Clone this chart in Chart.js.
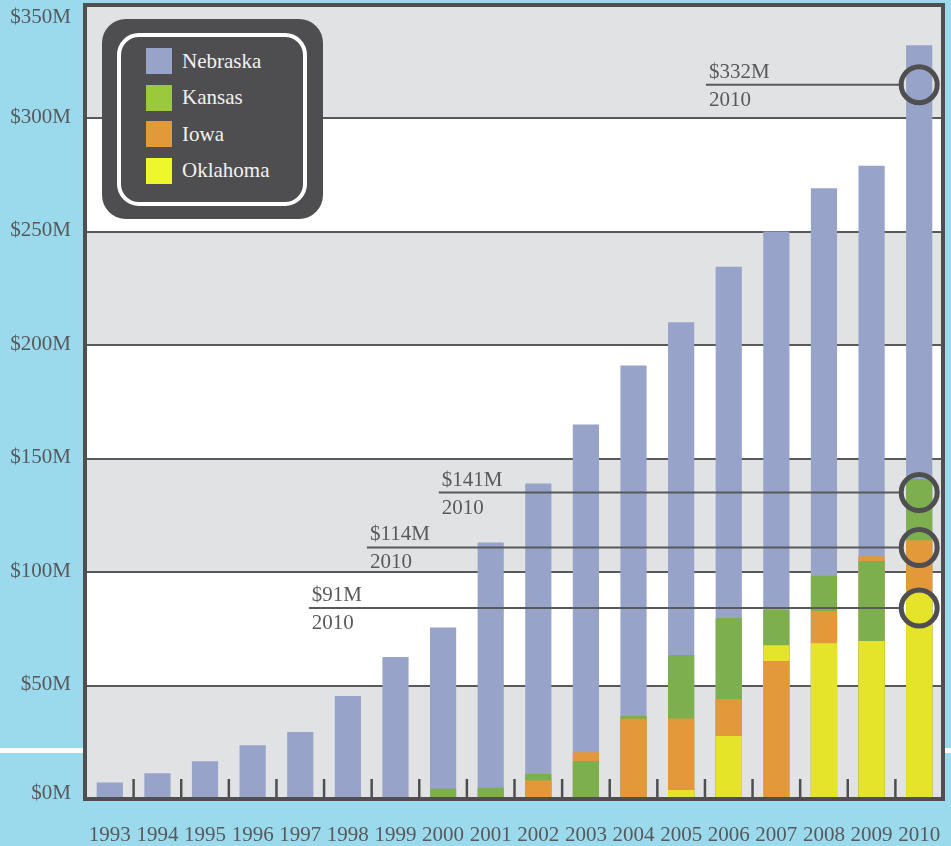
<!DOCTYPE html>
<html>
<head>
<meta charset="utf-8">
<script src="https://cdn.jsdelivr.net/npm/chart.js@4/dist/chart.umd.min.js"></script>
<style>
  html, body { margin: 0; padding: 0; background: #9bd9ed; }
  #wrap { position: relative; width: 951px; height: 846px; }
  #legend {
    position: absolute; left: 102px; top: 19px; width: 221px; height: 200px;
    background: #4e4e50; border-radius: 24px;
  }
  #legend .inner {
    position: absolute; left: 15px; top: 14px; width: 182px; height: 165px;
    border: 4px solid #fff; border-radius: 22px;
  }
  .row {
    position: absolute; left: 25px; height: 26px; display: flex; align-items: center;
    font: 21px 'Liberation Serif', serif; color: #f2f2f2;
  }
  .sw { width: 26px; height: 26px; margin-right: 10px; }
</style>
</head>
<body>
<div id="wrap">
  <canvas id="chart" width="951" height="846"></canvas>
  <div id="legend"><div class="inner" id="legend-inner"></div></div>
</div>
<script>
// ─── Data ─────────────────────────────────────────────
const YEARS     = ['1993','1994','1995','1996','1997','1998','1999','2000','2001','2002',
                   '2003','2004','2005','2006','2007','2008','2009','2010']
const NEBRASKA  = [7.3, 11.3, 16.6, 23.7, 29.5, 45.4, 62.6, 75.5, 113, 139,
                   165, 191, 210, 234.5, 250, 269, 279, 332]
const KANSAS    = [0, 0, 0, 0, 0, 0, 0, 4.5, 5, 11,
                   16.7, 36.6, 63.4, 79.7, 83.3, 98.4, 104.8, 141]
const IOWA      = [0, 0, 0, 0, 0, 0, 0, 0, 0, 8.1,
                   20.6, 35.4, 35.5, 44.1, 60.8, 82.8, 106.9, 114]
const OKLAHOMA  = [0, 0, 0, 0, 0, 0, 0, 0, 0, 0,
                   0, 0, 4, 27.8, 67.7, 68.6, 69.6, 91]
const STATES    = ['Nebraska', 'Kansas', 'Iowa', 'Oklahoma']
const Y_MAX     = 350
const Y_STEP    = 50

// ─── Styles ───────────────────────────────────────────
const BAR_COLORS    = ['#97a3c8', '#7daf4f', '#e3993a', '#e5e42a']
const LEGEND_COLORS = ['#97a3c8', '#9bc93c', '#e3993a', '#edf72c']
const BG      = '#9bd9ed'
const BAND    = '#e1e2e4'
const INK     = '#4f4f51'
const TEXT    = '#58595b'
const FONT    = "21px 'Liberation Serif', serif"

// callouts for the 2010 values (marker = line height on the y scale, from = line start on x)
const series = [NEBRASKA, KANSAS, IOWA, OKLAHOMA]
const callouts = [
  { state: 0, marker: 314.7, from: 12.52 },
  { state: 1, marker: 135.0, from: 6.91 },
  { state: 2, marker: 110.8, from: 5.40 },
  { state: 3, marker: 84.1,  from: 4.18 }
]

// ─── Legend ───────────────────────────────────────────
const legendInner = document.getElementById('legend-inner')
STATES.forEach((name, i) => {
  const row = document.createElement('div')
  row.className = 'row'
  row.style.top = (11 + i * 36.5) + 'px'
  row.innerHTML = `<span class="sw" style="background:${LEGEND_COLORS[i]}"></span>${name}`
  legendInner.appendChild(row)
})

// ─── Overlapping bars: tallest behind, per year ───────
const ranked = YEARS.map((_, i) =>
  series.map((s, k) => ({ v: s[i], c: BAR_COLORS[k] })).sort((a, b) => b.v - a.v))

const datasets = [0, 1, 2, 3].map(rank => ({
  data: ranked.map(r => r[rank].v),
  backgroundColor: ranked.map(r => r[rank].c),
  borderWidth: 0,
  barPercentage: 0.55,
  categoryPercentage: 1,
  order: 10 - rank
}))

// ─── Paint plugin ─────────────────────────────────────
const paint = {
  id: 'paint',
  beforeDraw(chart) {
    const { ctx, chartArea: a, scales: { y } } = chart
    ctx.save()
    ctx.fillStyle = BG
    ctx.fillRect(0, 0, chart.width, chart.height)
    ctx.fillStyle = '#fff'
    ctx.fillRect(0, 748, chart.width, 5)
    ctx.fillRect(a.left, a.top, a.width, a.height)
    ctx.fillStyle = BAND
    for (let v = 0; v < Y_MAX; v += 2 * Y_STEP) {
      const top = y.getPixelForValue(v + Y_STEP), bot = y.getPixelForValue(v)
      ctx.fillRect(a.left, top, a.width, bot - top)
    }
    ctx.restore()
  },
  afterDatasetsDraw(chart) {
    const { ctx, chartArea: a, scales: { x, y } } = chart
    ctx.save()

    // small ticks between categories
    ctx.strokeStyle = INK
    ctx.lineWidth = 2.5
    for (let i = 1; i < YEARS.length; i++) {
      const px = (x.getPixelForValue(i - 1) + x.getPixelForValue(i)) / 2
      ctx.beginPath(); ctx.moveTo(px, a.bottom - 20); ctx.lineTo(px, a.bottom); ctx.stroke()
    }

    // frame
    ctx.lineWidth = 4
    ctx.strokeRect(a.left - 1, 5, a.right - a.left + 1, a.bottom - 5)

    // callouts
    const last = YEARS.length - 1
    const cx = x.getPixelForValue(last)
    ctx.font = FONT
    ctx.textAlign = 'left'
    ctx.textBaseline = 'alphabetic'
    callouts.forEach(c => {
      const py = y.getPixelForValue(c.marker)
      const x0 = x.getPixelForValue(c.from)
      ctx.strokeStyle = TEXT
      ctx.lineWidth = 2
      ctx.beginPath(); ctx.moveTo(x0, py); ctx.lineTo(cx - 18, py); ctx.stroke()
      ctx.strokeStyle = INK
      ctx.lineWidth = 5
      ctx.beginPath(); ctx.arc(cx, py, 18, 0, Math.PI * 2); ctx.stroke()
      ctx.fillStyle = TEXT
      ctx.fillText(`$${series[c.state][last]}M`, x0 + 3, py - 7)
      ctx.fillText(YEARS[last], x0 + 3, py + 21)
    })

    // y labels
    ctx.textAlign = 'right'
    y.ticks.forEach(t => {
      let py = y.getPixelForValue(t.value) - 2.5
      py = Math.min(Math.max(py, 16), 792)
      ctx.fillText(`$${t.value}M`, 71, py + 7)
    })
    ctx.restore()
  }
}

// ─── Chart ────────────────────────────────────────────
new Chart(document.getElementById('chart'), {
  type: 'bar',
  data: { labels: YEARS, datasets },
  plugins: [paint],
  options: {
    responsive: false,
    animation: false,
    layout: { padding: { top: 4.5, right: 8, left: 0, bottom: 0 } },
    plugins: { legend: { display: false }, tooltip: { enabled: false } },
    scales: {
      x: {
        stacked: true,
        grid: { display: false, drawTicks: false },
        border: { display: false },
        ticks: {
          color: TEXT, font: { family: 'Liberation Serif', size: 21 },
          padding: 24, maxRotation: 0, autoSkip: false
        },
        afterFit: s => { s.height = 47; s.paddingLeft = 0; s.paddingRight = 0 }
      },
      y: {
        stacked: false,
        min: 0, max: Y_MAX,
        grid: { color: TEXT, lineWidth: 2, drawTicks: false },
        border: { display: false },
        ticks: { display: false, stepSize: Y_STEP },
        afterFit: s => { s.width = 86; s.paddingTop = 0; s.paddingBottom = 0 }
      }
    }
  }
})
</script>
</body>
</html>
